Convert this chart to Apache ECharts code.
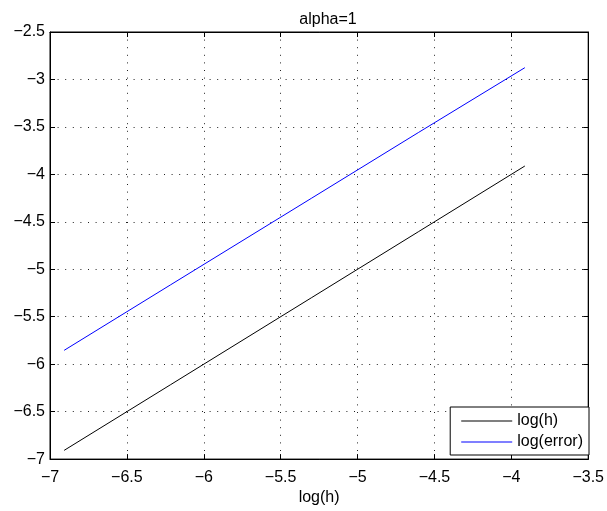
<!DOCTYPE html>
<html><head><meta charset="utf-8">
<script src="https://cdn.jsdelivr.net/npm/echarts@6/dist/echarts.min.js"></script>
<style>html,body{margin:0;padding:0;background:#fff}#c{width:607px;height:511px}</style>
</head><body><div id="c"></div>
<script>
const logH = [-6.908, -6.215, -5.298, -4.605, -3.912];
const logErrH = [-6.908, -6.215, -5.298, -4.605, -3.912];
const logErr = [-5.854, -5.163, -4.250, -3.560, -2.876];
const xTicks = [-7, -6.5, -6, -5.5, -5, -4.5, -4, -3.5];
const yTicks = [-7, -6.5, -6, -5.5, -5, -4.5, -4, -3.5, -3, -2.5];

const FONT = 'Liberation Sans';
const fmt = v => String(v).replace('-', '\u2212');
const chart = echarts.init(document.getElementById('c'));
const tickIn = {show: true, inside: true, length: 5, lineStyle: {color: '#000', width: 1}};
const split = {show: true, lineStyle: {color: '#222', type: [1, 6.6], width: 1}};
chart.setOption({
  animation: false,
  backgroundColor: '#fff',
  title: {text: 'alpha=1', left: 323, textAlign: 'center', top: 7,
    textStyle: {fontFamily: FONT, fontSize: 16, fontWeight: 'normal', color: '#000'}},
  grid: {left: 50, right: 9, top: 32, bottom: 49, show: true, borderColor: '#000', borderWidth: 1},
  legend: {
    orient: 'vertical', right: 18, bottom: 56,
    data: ['log(h)', 'log(error)'],
    icon: 'rect',
    itemWidth: 51, itemHeight: 1, itemGap: 1,
    padding: [4, 6, 3, 11],
    borderColor: '#000', borderWidth: 1, backgroundColor: '#fff',
    textStyle: {fontFamily: FONT, fontSize: 16, color: '#000', lineHeight: 20, padding: [0, 0, 0, 0]}
  },
  xAxis: [{
    type: 'value', min: xTicks[0], max: xTicks[xTicks.length - 1], interval: 0.5,
    name: 'log(h)', nameLocation: 'middle', nameGap: 27,
    nameTextStyle: {fontFamily: FONT, fontSize: 16, color: '#000'},
    axisLine: {show: true, onZero: false, lineStyle: {color: '#000'}},
    axisTick: tickIn, splitLine: split,
    axisLabel: {fontFamily: FONT, fontSize: 16, color: '#000', margin: 10, formatter: fmt, showMinLabel: true, showMaxLabel: true}
  }, {
    type: 'value', position: 'top', min: xTicks[0], max: xTicks[xTicks.length - 1], interval: 0.5,
    axisLine: {show: true, onZero: false, lineStyle: {color: '#000'}},
    axisTick: tickIn, splitLine: {show: false}, axisLabel: {show: false}
  }],
  yAxis: [{
    type: 'value', min: yTicks[0], max: yTicks[yTicks.length - 1], interval: 0.5,
    axisLine: {show: true, onZero: false, lineStyle: {color: '#000'}},
    axisTick: tickIn, splitLine: split,
    axisLabel: {fontFamily: FONT, fontSize: 16, color: '#000', margin: 5, formatter: fmt, showMinLabel: true, showMaxLabel: true}
  }, {
    type: 'value', position: 'right', min: yTicks[0], max: yTicks[yTicks.length - 1], interval: 0.5,
    axisLine: {show: true, onZero: false, lineStyle: {color: '#000'}},
    axisTick: tickIn, splitLine: {show: false}, axisLabel: {show: false}
  }],
  series: [{
    name: 'log(h)', type: 'line', symbol: 'none', showSymbol: false,
    lineStyle: {color: '#000', width: 1}, itemStyle: {color: '#000'},
    data: logH.map((x, i) => [x, logH[i]])
  }, {
    name: 'log(error)', type: 'line', symbol: 'none', showSymbol: false,
    lineStyle: {color: '#0000ff', width: 1}, itemStyle: {color: '#0000ff'},
    data: logErrH.map((x, i) => [x, logErr[i]])
  }]
});
</script></body></html>
